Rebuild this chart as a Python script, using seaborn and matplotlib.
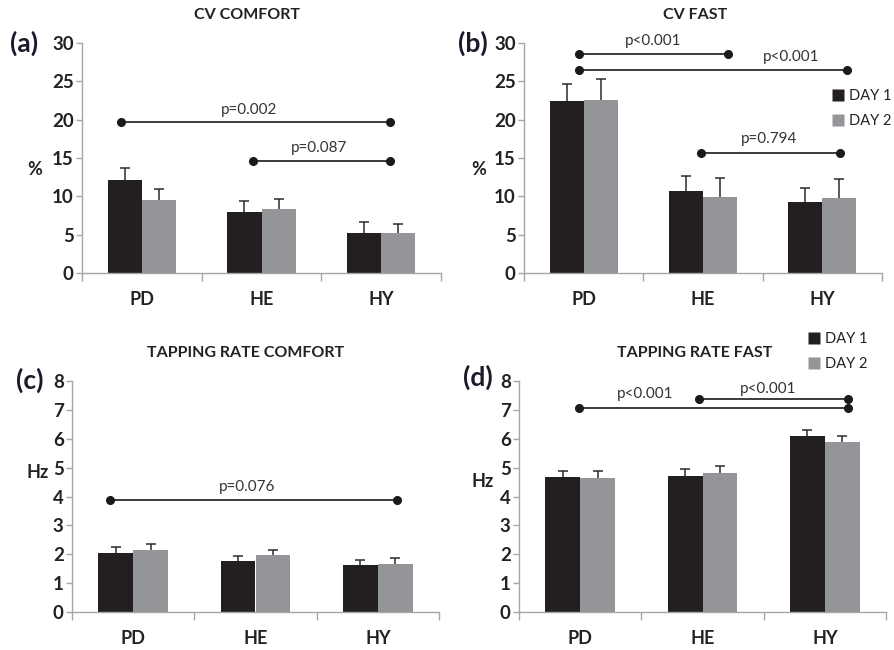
import numpy as np
import pandas as pd
import matplotlib
matplotlib.use("Agg")
import matplotlib.pyplot as plt
from matplotlib.lines import Line2D
import seaborn as sns

# ---------------- data ----------------
categories = ["PD", "HE", "HY"]
days = ["DAY 1", "DAY 2"]

cv_comfort_day1 = [12.1, 8.0, 5.2]
cv_comfort_day2 = [9.5, 8.3, 5.2]
cv_comfort_err1 = [1.6, 1.4, 1.4]
cv_comfort_err2 = [1.4, 1.3, 1.2]

cv_fast_day1 = [22.4, 10.7, 9.2]
cv_fast_day2 = [22.6, 9.9, 9.8]
cv_fast_err1 = [2.2, 2.0, 1.9]
cv_fast_err2 = [2.7, 2.5, 2.5]

tr_comfort_day1 = [2.05, 1.78, 1.62]
tr_comfort_day2 = [2.16, 1.96, 1.67]
tr_comfort_err1 = [0.21, 0.17, 0.19]
tr_comfort_err2 = [0.21, 0.18, 0.19]

tr_fast_day1 = [4.66, 4.72, 6.08]
tr_fast_day2 = [4.64, 4.82, 5.88]
tr_fast_err1 = [0.24, 0.23, 0.21]
tr_fast_err2 = [0.23, 0.24, 0.22]

titles = ["CV COMFORT", "CV FAST", "TAPPING RATE COMFORT", "TAPPING RATE FAST"]
panel_labels = ["(a)", "(b)", "(c)", "(d)"]
y_labels = ["%", "%", "Hz", "Hz"]

# significance comparisons: (x start, x end, level, text)
sig_a = [(-0.17, 2.075, 19.7, "p=0.002"), (0.925, 2.075, 14.6, "p=0.087")]
sig_b = [(-0.04, 1.21, 28.6, "p<0.001"), (-0.04, 2.21, 26.5, "p<0.001"),
         (0.98, 2.15, 15.65, "p=0.794")]
sig_c = [(-0.19, 2.16, 3.88, "p=0.076")]
sig_d = [(-0.01, 2.19, 7.07, "p<0.001"), (0.97, 2.19, 7.39, "p<0.001")]

# ---------------- style ----------------
sns.set_style("white")
plt.rcParams["font.family"] = ["Lato", "DejaVu Sans"]

DARK = "#231f20"
GRAY = "#939598"
SPINE = "#a6a6a6"

W, H = 894, 650
fig = plt.figure(figsize=(W / 100, H / 100), dpi=100)


def fig_rect(l, r, top, bot):
    return [l / W, 1 - bot / H, (r - l) / W, (bot - top) / H]


rects = [fig_rect(82, 441, 43, 273), fig_rect(524, 882, 43, 273),
         fig_rect(72, 439, 381, 612), fig_rect(519, 886, 381, 612)]

panels = [
    (cv_comfort_day1, cv_comfort_day2, cv_comfort_err1, cv_comfort_err2, 30, 5, sig_a,
     [(0.9, 21.3), (1.48, 16.3)]),
    (cv_fast_day1, cv_fast_day2, cv_fast_err1, cv_fast_err2, 30, 5, sig_b,
     [(0.58, 30.3), (1.735, 28.2), (1.55, 17.5)]),
    (tr_comfort_day1, tr_comfort_day2, tr_comfort_err1, tr_comfort_err2, 8, 1, sig_c,
     [(0.93, 4.34)]),
    (tr_fast_day1, tr_fast_day2, tr_fast_err1, tr_fast_err2, 8, 1, sig_d,
     [(0.53, 7.54), (1.54, 7.74)]),
]

ylabel_pos = [(-0.131, 0.448), (-0.126, 0.448), (-0.095, 0.606), (-0.098, 0.563)]
title_pos = [(247, 15), (695, 15), (246, 353), (695, 353)]
plabel_pos = [(24, 43), (473, 43), (30, 380), (478, 377)]

for i, (d1, d2, e1, e2, ymax, ystep, sigs, text_pos) in enumerate(panels):
    ax = fig.add_axes(rects[i])
    df = pd.DataFrame({
        "group": categories * 2,
        "day": [days[0]] * 3 + [days[1]] * 3,
        "value": list(d1) + list(d2),
    })
    sns.barplot(data=df, x="group", y="value", hue="day", order=categories,
                hue_order=days, palette=[DARK, GRAY], width=0.57, errorbar=None,
                saturation=1, legend=False, ax=ax, edgecolor="none")
    for cont, vals, errs in zip(ax.containers, [d1, d2], [e1, e2]):
        xs = [p.get_x() + p.get_width() / 2 for p in cont.patches]
        eb = ax.errorbar(xs, vals, yerr=[np.zeros(len(errs)), errs], fmt="none",
                         ecolor="#2b2b2b", elinewidth=1.1, capsize=3.5,
                         capthick=1.1, zorder=3)
        eb.lines[1][0].set_visible(False)  # hide lower caps

    for (xs_, xe_, lvl, txt), (tx, ty) in zip(sigs, text_pos):
        ax.plot([xs_, xe_], [lvl, lvl], color="#1a1a1a", lw=1.2, marker="o",
                markersize=5.5, clip_on=False, zorder=4)
        ax.text(tx, ty, txt, ha="center", va="center", fontsize=11,
                color="#333333", clip_on=False)

    ax.set_xlim(-0.5, 2.5)
    ax.set_ylim(0, ymax)
    ax.set_yticks(np.arange(0, ymax + ystep / 2, ystep))
    ax.set_xticks([0, 1, 2])
    ax.set_xticklabels(categories)
    ax.set_xticks([-0.5, 0.5, 1.5, 2.5], minor=True)
    ax.set_xlabel("")
    ax.set_ylabel("")
    for s in ["top", "right"]:
        ax.spines[s].set_visible(False)
    for s in ["left", "bottom"]:
        ax.spines[s].set_color(SPINE)
        ax.spines[s].set_linewidth(1.0)
    ax.tick_params(axis="y", which="major", length=4, width=1, color=SPINE,
                   direction="out", left=True, labelsize=13.5, pad=2)
    ax.tick_params(axis="x", which="major", length=0, labelsize=13, pad=13)
    ax.tick_params(axis="x", which="minor", length=6, width=1, color=SPINE,
                   direction="out", bottom=True)
    for lab in ax.get_xticklabels() + ax.get_yticklabels():
        lab.set_fontweight("bold")
        lab.set_color("#222222")
    ax.text(ylabel_pos[i][0], ylabel_pos[i][1], y_labels[i], transform=ax.transAxes,
            ha="center", va="center", fontsize=13, fontweight="bold",
            color="#222222")

    fig.text(title_pos[i][0] / W, 1 - title_pos[i][1] / H, titles[i], ha="center",
             va="center", fontsize=11.5, fontweight="bold", color="#222222")
    fig.text(plabel_pos[i][0] / W, 1 - plabel_pos[i][1] / H, panel_labels[i],
             ha="center", va="center", fontsize=19, fontweight="bold",
             color="#1a1a2a")

handles = [Line2D([0], [0], marker="s", linestyle="none", markersize=8,
                  markerfacecolor=c, markeredgecolor="none") for c in (DARK, GRAY)]
for (lx, ly) in [(832, 89), (808, 332)]:
    fig.legend(handles, days, loc="upper left",
               bbox_to_anchor=(lx / W, 1 - ly / H), frameon=False, fontsize=10.5,
               handlelength=0.8, handletextpad=0.35, labelspacing=0.75,
               borderpad=0, borderaxespad=0, labelcolor="#222222")

fig.savefig("out.png", dpi=100)
